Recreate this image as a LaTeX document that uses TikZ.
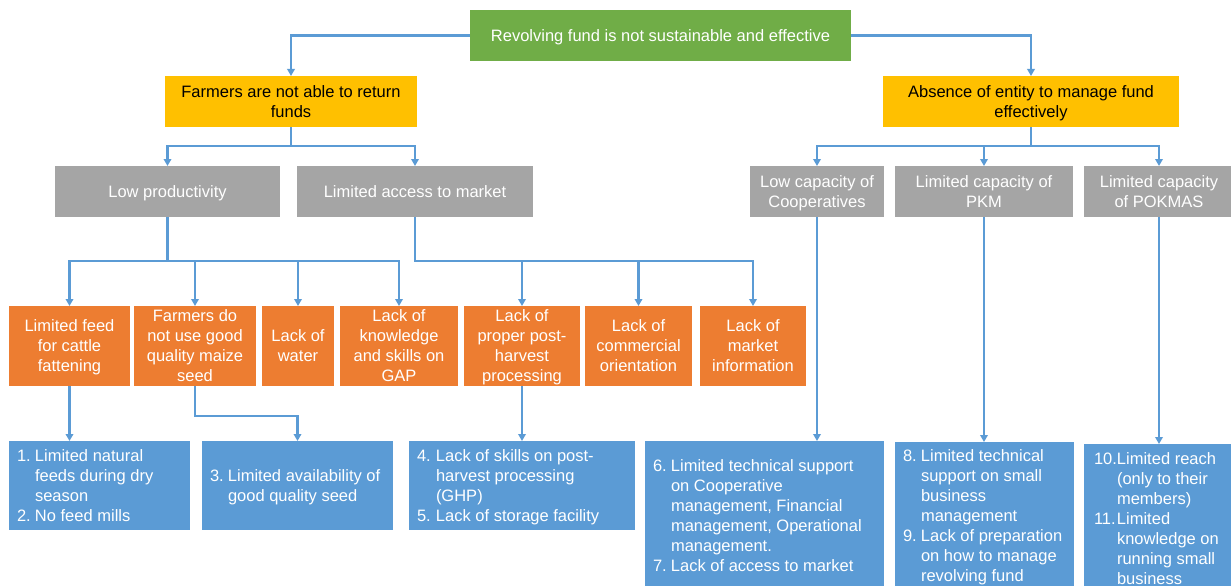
\documentclass[tikz,border=0pt]{standalone}
\usepackage{fontspec}
\setmainfont{Liberation Sans}
\usetikzlibrary{arrows.meta}
\definecolor{cgreen}{HTML}{70AD47}
\definecolor{cyellow}{HTML}{FFC000}
\definecolor{cgrey}{HTML}{A5A5A5}
\definecolor{corange}{HTML}{ED7D31}
\definecolor{cblue}{HTML}{5B9BD5}
\definecolor{cline}{HTML}{5B9BD5}
\newcommand\mystrut{\rule[-3.7pt]{0pt}{19.2pt}}
\newcommand\lowered[1]{\raisebox{-1.9pt}[\height][\depth]{#1}}
\begin{document}
\begin{tikzpicture}[x=1pt,y=-1pt,
  box/.style={rectangle, anchor=north west, inner xsep=2pt, inner ysep=0pt, outer sep=0pt,
    align=center, text=white, font=\fontsize{16.5}{20}\selectfont},
  greenbox/.style={box, fill=cgreen},
  yellowbox/.style={box, fill=cyellow, text=black},
  greybox/.style={box, fill=cgrey},
  orangebox/.style={box, fill=corange, minimum height=80pt},
  bluebox/.style={rectangle, anchor=north west, inner xsep=8pt, inner ysep=1pt, outer sep=0pt,
    text=white, fill=cblue, font=\fontsize{16.5}{20}\selectfont},
  conn/.style={draw=cline, line width=2.2pt, -{Triangle[length=7pt,width=7.5pt]}}]
\useasboundingbox (0,0) rectangle (1231,586);
\fill[white] (0,0) rectangle (1231,586);

% top
\node[greenbox, minimum width=381pt, minimum height=51pt] (g) at (470,10) {\mystrut Revolving fund is not sustainable and effective\mystrut};

\node[yellowbox, minimum width=252pt, minimum height=51pt] (y1) at (165,76) {\mystrut Farmers are not able to return\\funds\mystrut};
\node[yellowbox, minimum width=296pt, minimum height=51pt] (y2) at (883,76) {\mystrut Absence of entity to manage fund\\effectively\mystrut};

% grey
\node[greybox, minimum width=225pt, minimum height=51pt] (gr1) at (55,166) {\mystrut Low productivity\mystrut};
\node[greybox, minimum width=236pt, minimum height=51pt] (gr2) at (297,166) {\mystrut Limited access to market\mystrut};
\node[greybox, minimum width=134pt, minimum height=51pt] (gr3) at (750,166) {\mystrut Low capacity of\\Cooperatives\mystrut};
\node[greybox, minimum width=178pt, minimum height=51pt] (gr4) at (895,166) {\mystrut Limited capacity of\\PKM\mystrut};
\node[greybox, minimum width=150pt, minimum height=51pt] (gr5) at (1084,166) {\mystrut Limited capacity\\of POKMAS\mystrut};

% orange
\node[orangebox, minimum width=121pt] (o1) at (9,306) {\mystrut Limited feed\\for cattle\\fattening\mystrut};
\node[orangebox, minimum width=122pt] (o2) at (134,306) {\mystrut Farmers do\\not use good\\quality maize\\seed\mystrut};
\node[orangebox, minimum width=72pt] (o3) at (262,306) {\mystrut Lack of\\water\mystrut};
\node[orangebox, minimum width=118pt] (o4) at (340,306) {\mystrut Lack of\\knowledge\\and skills on\\GAP\mystrut};
\node[orangebox, minimum width=116pt] (o5) at (464,306) {\mystrut Lack of\\proper post-\\harvest\\processing\mystrut};
\node[orangebox, minimum width=107pt] (o6) at (585,306) {\mystrut Lack of\\commercial\\orientation\mystrut};
\node[orangebox, minimum width=106pt] (o7) at (700,306) {\mystrut Lack of\\market\\information\mystrut};

% blue
\node[bluebox, minimum width=181pt, minimum height=89pt] (b1) at (9,441) {\makebox[165pt][l]{\lowered{\begin{tabular}{@{}p{18pt}@{}l@{}}
1. & Limited natural\\ & feeds during dry\\ & season\\ 2. & No feed mills\end{tabular}}}};
\node[bluebox, minimum width=191pt, minimum height=89pt] (b2) at (202,441) {\makebox[175pt][l]{\lowered{\begin{tabular}{@{}p{18pt}@{}l@{}}
3. & Limited availability of\\ & good quality seed\end{tabular}}}};
\node[bluebox, minimum width=226pt, minimum height=89pt] (b3) at (409,441) {\makebox[210pt][l]{\lowered{\begin{tabular}{@{}p{19pt}@{}l@{}}
4. & Lack of skills on post-\\ & harvest processing\\ & (GHP)\\ 5. & Lack of storage facility\end{tabular}}}};
\node[bluebox, minimum width=239pt, minimum height=150pt] (b4) at (645,441) {\makebox[223pt][l]{\lowered{\begin{tabular}{@{}p{18pt}@{}l@{}}
6. & Limited technical support\\ & on Cooperative\\ & management, Financial\\ & management, Operational\\ & management.\\ 7. & Lack of access to market\end{tabular}}}};
\node[bluebox, minimum width=179pt, minimum height=148pt] (b5) at (895,442) {\makebox[163pt][l]{\lowered{\begin{tabular}{@{}p{18pt}@{}l@{}}
8. & Limited technical\\ & support on small\\ & business\\ & management\\ 9. & Lack of preparation\\ & on how to manage\\ & revolving fund\end{tabular}}}};
\node[bluebox, inner xsep=10pt, minimum width=150pt, minimum height=150pt] (b6) at (1084,444) {\makebox[130pt][l]{\lowered{\begin{tabular}{@{}p{23pt}@{}l@{}}
10. & Limited reach\\ & (only to their\\ & members)\\ 11. & Limited\\ & knowledge on\\ & running small\\ & business\end{tabular}}}};

% connectors
\draw[conn] (g.west) -| (y1.north);
\draw[conn] (g.east) -| (y2.north);

\draw[conn] (y1.south) -- ++(0,19) -| (gr1.north);
\draw[conn] (y1.south) -- ++(0,19) -| (gr2.north);

\draw[conn] (y2.south) -- ++(0,19) -| (gr3.north);
\draw[conn] (y2.south) -- ++(0,19) -| (gr4.north);
\draw[conn] (y2.south) -- ++(0,19) -| (gr5.north);

\draw[conn] (gr1.south) -- ++(0,44) -| (o1.north);
\draw[conn] (gr1.south) -- ++(0,44) -| (o2.north);
\draw[conn] (gr1.south) -- ++(0,44) -| (o3.north);
\draw[conn] (gr1.south) -- ++(0,44) -| (o4.north);

\draw[conn] (gr2.south) -- ++(0,44) -| (o5.north);
\draw[conn] (gr2.south) -- ++(0,44) -| (o6.north);
\draw[conn] (gr2.south) -- ++(0,44) -| (o7.north);

\draw[conn] (o1.south) -- (o1.south |- b1.north);
\draw[conn] (o2.south) -- ++(0,30) -| (b2.north);
\draw[conn] (o5.south) -- (o5.south |- b3.north);

\draw[conn] (gr3.south) -- (gr3.south |- b4.north);
\draw[conn] (gr4.south) -- (gr4.south |- b5.north);
\draw[conn] (gr5.south) -- (gr5.south |- b6.north);
\end{tikzpicture}
\end{document}
